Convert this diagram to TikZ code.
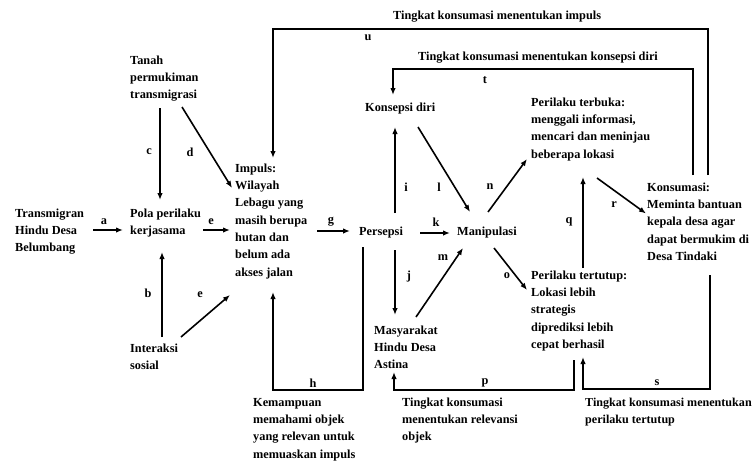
\documentclass[tikz,border=0pt]{standalone}
\usepackage{fontspec}
\setmainfont{Liberation Serif}
\usetikzlibrary{arrows.meta,calc}
\tikzset{
  txt/.style={anchor=north west, inner sep=0pt, align=left, font=\fontsize{12.3}{17.3}\selectfont\bfseries},
  lbl/.style={inner sep=0pt, font=\fontsize{12.3}{17.3}\selectfont\bfseries},
  arr/.style={line width=1.6pt, -{Latex[length=7pt,width=5.5pt]}},
}
\begin{document}
\begin{tikzpicture}[x=1pt,y=-1pt]
\useasboundingbox (0,0) rectangle (754,461);
% text nodes (north west = first baseline - 12.1)
\node[txt] (trans) at (15,204.9) {\strut Transmigran\\Hindu Desa\\Belumbang};
\node[txt] (tanah) at (130,51.9) {\strut Tanah\\permukiman\\transmigrasi};
\node[txt] (pola) at (130,204.9) {\strut Pola perilaku\\kerjasama};
\node[txt] (inter) at (130,339.9) {\strut Interaksi\\sosial};
\node[txt] (impuls) at (235,159.9) {\strut Impuls:\\Wilayah\\Lebagu yang\\masih berupa\\hutan dan\\belum ada\\akses jalan};
\node[txt] (persepsi) at (359,222.9) {\strut Persepsi};
\node[txt] (konsep) at (365,98.9) {\strut Konsepsi diri};
\node[txt] (manip) at (457,222.9) {\strut Manipulasi};
\node[txt] (masy) at (374,321.9) {\strut Masyarakat\\Hindu Desa\\Astina};
\node[txt] (terbuka) at (531,93.9) {\strut Perilaku terbuka:\\menggali informasi,\\mencari dan meninjau\\beberapa lokasi};
\node[txt] (konsum) at (647,178.9) {\strut Konsumasi:\\Meminta bantuan\\kepala desa agar\\dapat bermukim di\\Desa Tindaki};
\node[txt] (tertutup) at (531,266.9) {\strut Perilaku tertutup:\\Lokasi lebih\\strategis\\diprediksi lebih\\cepat berhasil};
\node[txt] (kemampuan) at (253,393.9) {\strut Kemampuan\\memahami objek\\yang relevan untuk\\memuaskan impuls};
\node[txt] (relev) at (402,393.9) {\strut Tingkat konsumasi\\menentukan relevansi\\objek};
\node[txt, font=\fontsize{12.1}{17.3}\selectfont\bfseries] (pertut) at (585,393.9) {\strut Tingkat konsumasi menentukan\\perilaku tertutup};
\node[txt] (timp) at (393,6.9) {\strut Tingkat konsumasi menentukan impuls};
\node[txt] (tkons) at (418,47.9) {\strut Tingkat konsumasi menentukan konsepsi diri};
% connector labels
\node[lbl] (la) at (104,222) {a};
\node[lbl] (lb) at (148,293) {b};
\node[lbl] (lc) at (149,152) {c};
\node[lbl] (ld) at (190,152) {d};
\node[lbl] (le1) at (211,222) {e};
\node[lbl] (le2) at (200,295) {e};
\node[lbl] (lg) at (331,222) {g};
\node[lbl] (lh) at (313,383) {h};
\node[lbl] (li) at (406,187) {i};
\node[lbl] (lj) at (409,277) {j};
\node[lbl] (lk) at (436,222) {k};
\node[lbl] (ll) at (439,187) {l};
\node[lbl] (lm) at (443,258) {m};
\node[lbl] (ln) at (490,187) {n};
\node[lbl] (lo) at (507,276) {o};
\node[lbl] (lp) at (485,383) {p};
\node[lbl] (lq) at (569,222) {q};
\node[lbl] (lr) at (614,205) {r};
\node[lbl] (ls) at (657,383) {s};
\node[lbl] (lt) at (485,80) {t};
\node[lbl] (lu) at (368,38) {u};
% connectors
\draw[arr] ($(trans.north west)+(78,25.1)$) -- ($(pola.north west)+(-7,25.1)$);
\draw[arr] ($(inter.north west)+(32,-2.9)$) -- ($(pola.north west)+(32,47.1)$);
\draw[arr] ($(tanah.north west)+(30,56.1)$) -- ($(pola.north west)+(30,-4.9)$);
\draw[arr] ($(tanah.north west)+(52,55.1)$) -- ($(impuls.north west)+(-3,28.1)$);
\draw[arr] ($(pola.north west)+(73,25.1)$) -- ($(impuls.north west)+(-5,70.1)$);
\draw[arr] ($(inter.north west)+(51,-2.9)$) -- ($(impuls.north west)+(-5,135.1)$);
\draw[arr] ($(impuls.north west)+(82,71.1)$) -- ($(persepsi.north west)+(-9,8.1)$);
\draw[arr] ($(persepsi.north west)+(4,24.1)$) |- ($(kemampuan.north west)+(20,-3.9)$) -- ($(impuls.north west)+(38,132.1)$);
\draw[arr] ($(persepsi.north west)+(36,-9.9)$) -- ($(konsep.north west)+(30,28.1)$);
\draw[arr] ($(persepsi.north west)+(36,27.1)$) -- ($(masy.north west)+(21,-6.9)$);
\draw[arr] ($(persepsi.north west)+(61,10.1)$) -- ($(manip.north west)+(-7,10.1)$);
\draw[arr] ($(konsep.north west)+(53,28.1)$) -- ($(manip.north west)+(13,-10.9)$);
\draw[arr] ($(masy.north west)+(42,-4.9)$) -- ($(manip.north west)+(6,25.1)$);
\draw[arr] ($(manip.north west)+(31,-10.9)$) -- ($(terbuka.north west)+(-4,65.1)$);
\draw[arr] ($(manip.north west)+(37,25.1)$) -- ($(tertutup.north west)+(-4,23.1)$);
\draw[arr] ($(tertutup.north west)+(43,93.1)$) |- ($(relev.north west)+(-8,-3.9)$) -- ($(masy.north west)+(20,50.1)$);
\draw[arr] ($(tertutup.north west)+(52,1.1)$) -- ($(terbuka.north west)+(52,83.1)$);
\draw[arr] ($(terbuka.north west)+(66,84.1)$) -- ($(konsum.north west)+(-1,34.6)$);
\draw[arr] ($(konsum.north west)+(63,96.1)$) |- ($(pertut.north west)+(-2,-4.9)$) -- ($(tertutup.north west)+(52,90.1)$);
\draw[arr] ($(konsum.north west)+(46,-3.9)$) |- ($(tkons.north west)+(-25,21.1)$) -- ($(konsep.north west)+(28,-3.9)$);
\draw[arr] ($(konsum.north west)+(61,-3.9)$) |- ($(timp.north west)+(-120,22.1)$) -- ($(impuls.north west)+(38,-1.9)$);
\end{tikzpicture}
\end{document}
